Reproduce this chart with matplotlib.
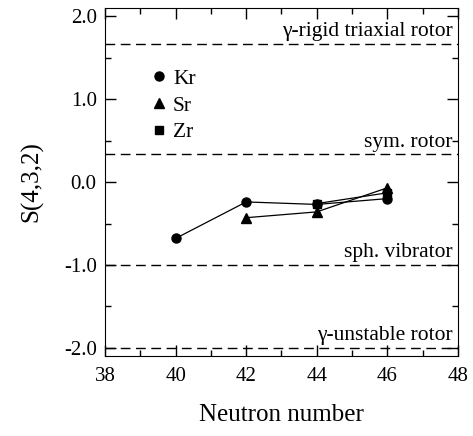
import matplotlib
matplotlib.use("Agg")
import matplotlib.pyplot as plt
from matplotlib.lines import Line2D
from matplotlib.ticker import MultipleLocator

plt.rcParams.update({
    "font.family": ["Liberation Serif", "DejaVu Serif"],
    "xtick.direction": "in",
    "ytick.direction": "in",
    "xtick.top": True,
    "ytick.right": True,
})

# S(4,3,2) staggering values vs neutron number
n_kr = [40, 42, 44, 46]
s_kr = [-0.68, -0.24, -0.27, -0.20]
n_sr = [42, 44, 46]
s_sr = [-0.43, -0.36, -0.07]
n_zr = [44, 46]
s_zr = [-0.26, -0.13]

# limiting cases
limit_values = [5 / 3, 1 / 3, -1.0, -2.0]
limit_labels = ["γ-rigid triaxial rotor", "sym. rotor", "sph. vibrator", "γ-unstable rotor"]

fig = plt.figure(figsize=(4.73, 4.36), dpi=100)
ax = fig.add_axes([0.222, 0.183, 0.746, 0.799])

for v, lab in zip(limit_values, limit_labels):
    ax.axhline(v, color="black", lw=1.0, dashes=(7, 4))
    ax.text(47.85, v + 0.03, lab, ha="right", va="bottom", fontsize=15.5)

ax.plot(n_kr, s_kr, "-o", color="black", lw=0.9, ms=6.5)
ax.plot(n_sr, s_sr, "-^", color="black", lw=0.9, ms=7)
ax.plot(n_zr, s_zr, "-s", color="black", lw=0.9, ms=6)

handles = [
    Line2D([], [], ls="none", marker="o", color="black", ms=6.5),
    Line2D([], [], ls="none", marker="^", color="black", ms=7),
    Line2D([], [], ls="none", marker="s", color="black", ms=6),
]
ax.legend(handles, ["Kr", "Sr", "Zr"], loc="upper left", bbox_to_anchor=(0.08, 0.868),
          frameon=False, fontsize=15.5, handletextpad=0.15, labelspacing=0.31,
          handlelength=1.0, borderpad=0.2)

ax.set_xlim(38, 48)
ax.set_ylim(-2.1, 2.1)
ax.xaxis.set_major_locator(MultipleLocator(2))
ax.xaxis.set_minor_locator(MultipleLocator(1))
ax.yaxis.set_major_locator(MultipleLocator(1))
ax.yaxis.set_minor_locator(MultipleLocator(0.5))
ax.yaxis.set_major_formatter(lambda v, p: f"{v:.1f}")
ax.tick_params(which="major", length=8, width=1, labelsize=15)
ax.tick_params(which="minor", length=4, width=1)
ax.tick_params(axis="x", pad=8)
ax.tick_params(axis="y", pad=6)

ax.set_xlabel("Neutron number", fontsize=18, labelpad=13)
ax.set_ylabel("S(4,3,2)", fontsize=18, labelpad=15)

fig.savefig("out.png", dpi=100)
